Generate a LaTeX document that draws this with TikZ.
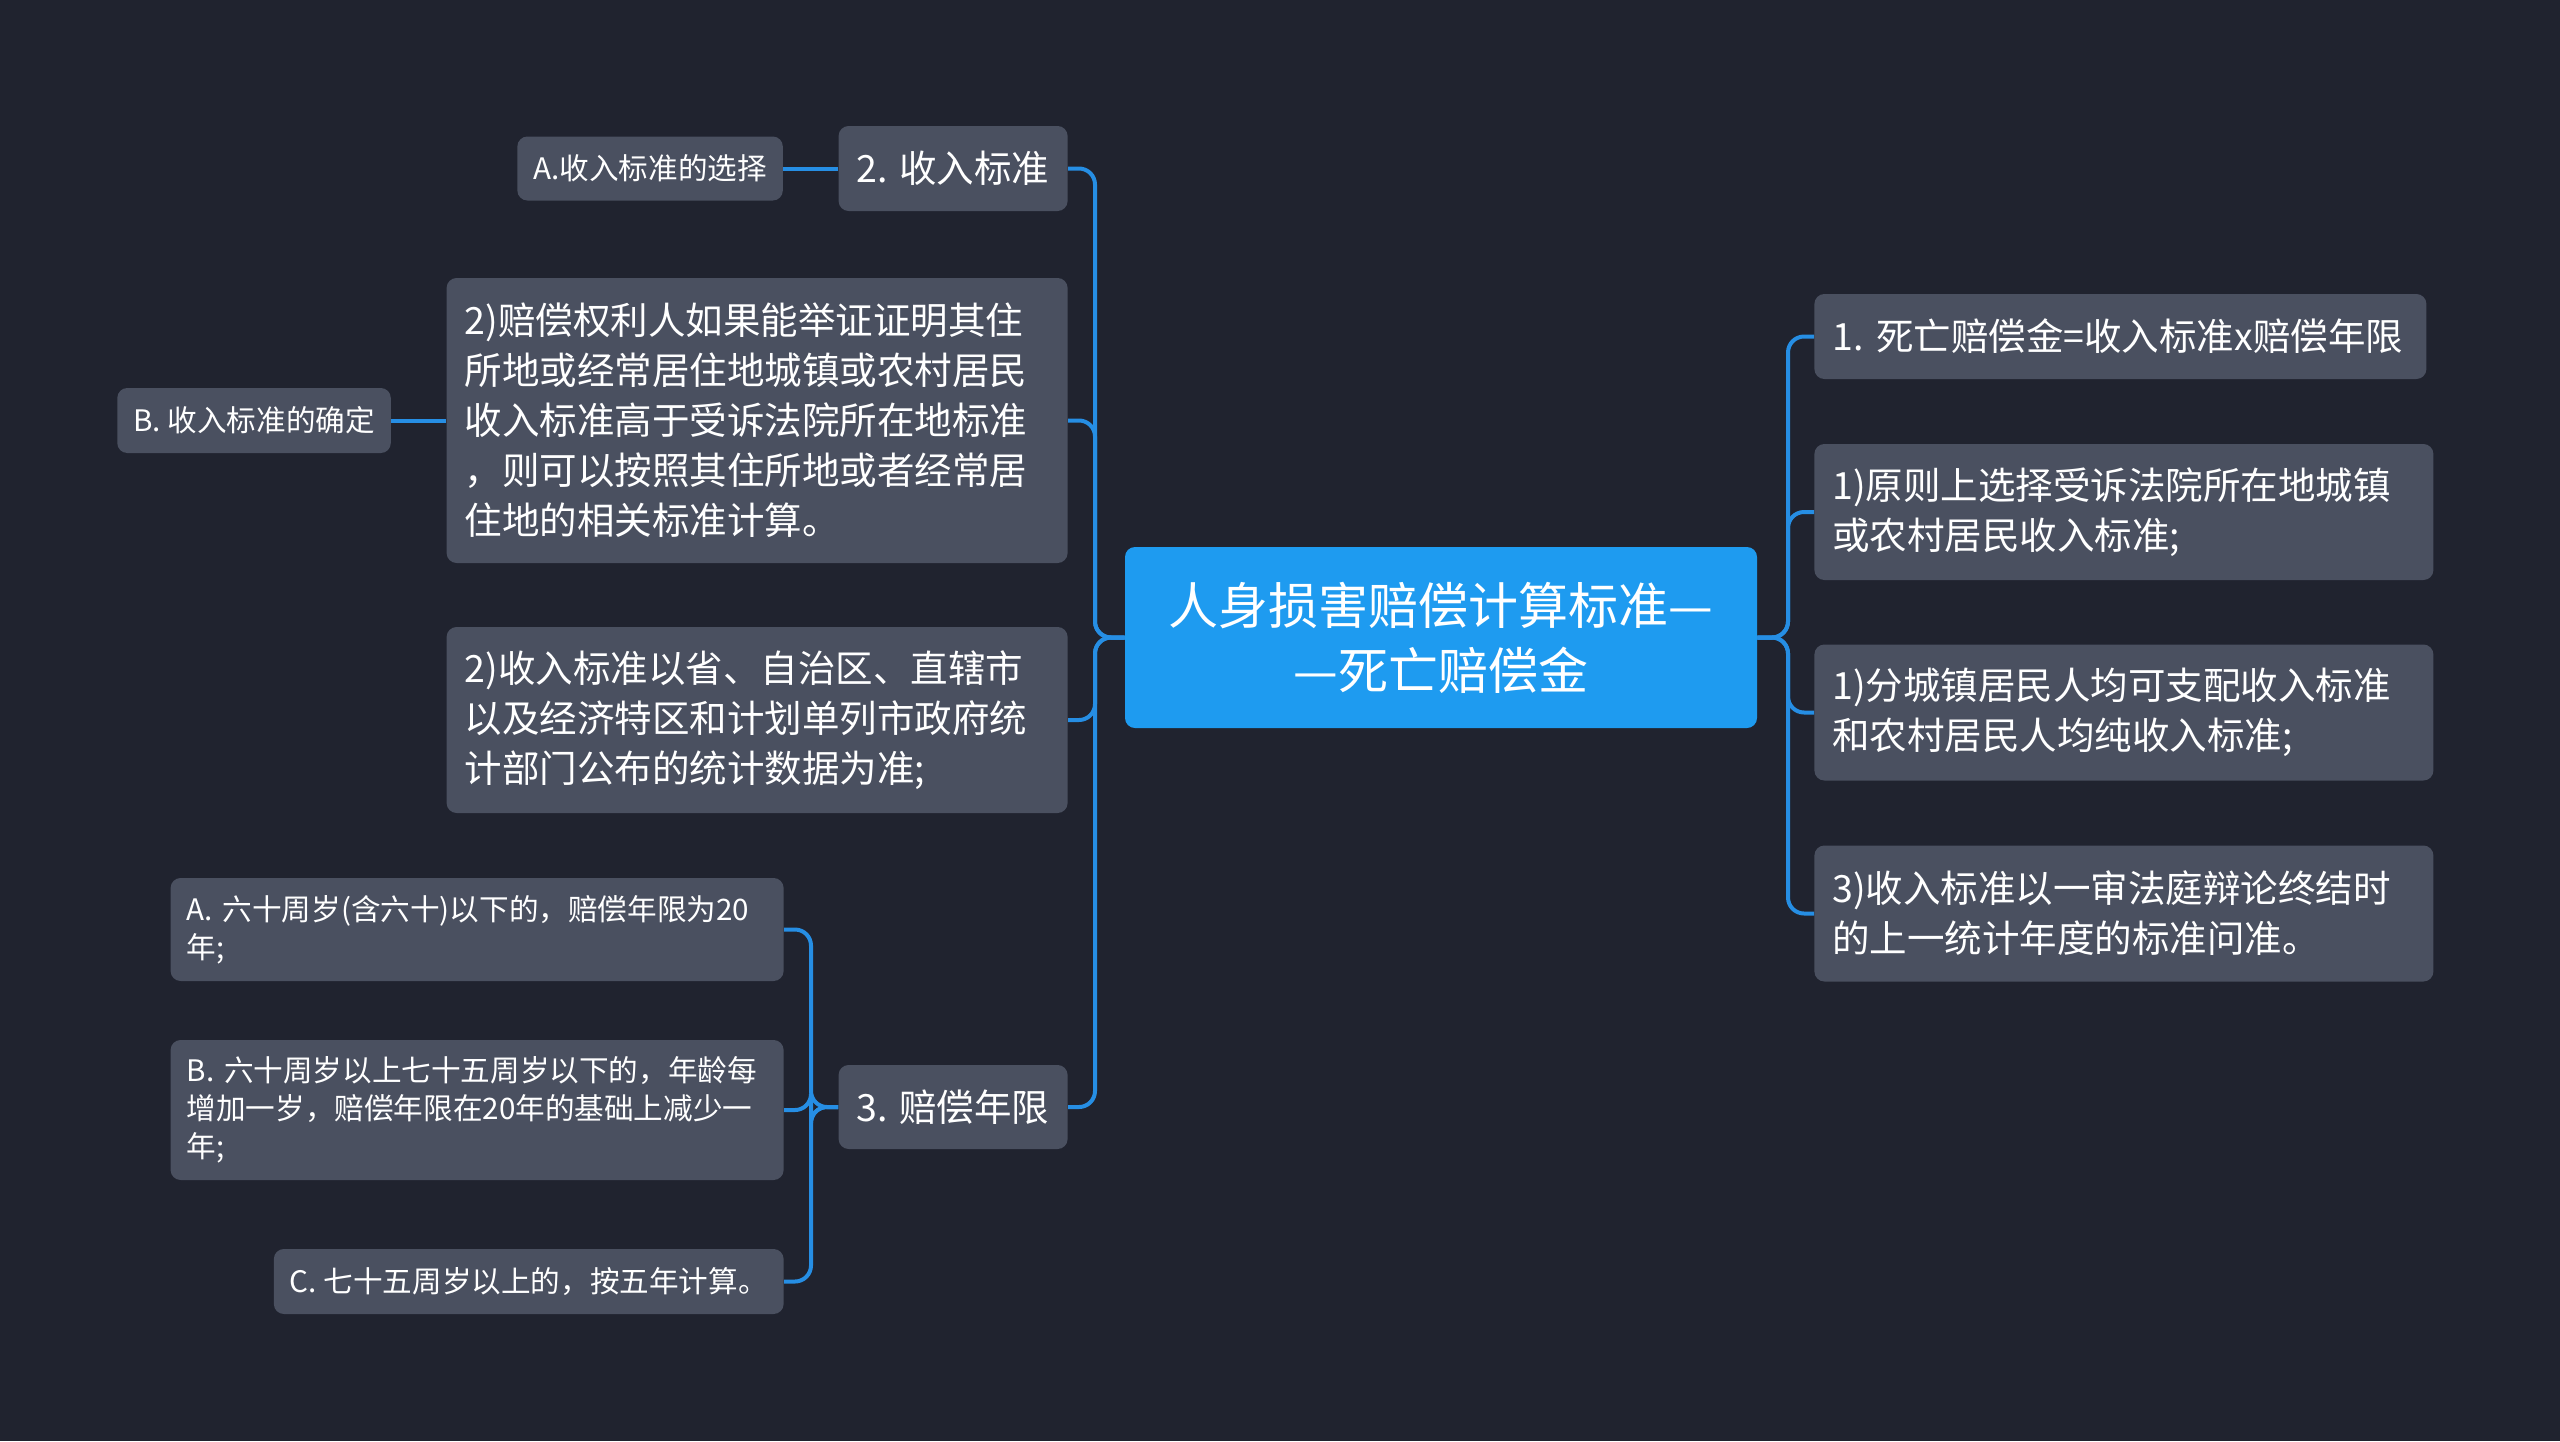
\documentclass[tikz,border=0pt]{standalone}
\usepackage{fontspec}
\setmainfont{Noto Sans CJK SC}
\definecolor{BgDark}{RGB}{32,35,47}
\definecolor{NodeGrey}{RGB}{74,80,96}
\definecolor{RootBlue}{RGB}{30,155,240}
\definecolor{LinkBlue}{RGB}{38,142,228}
\usetikzlibrary{positioning}

\begin{document}
\begin{tikzpicture}[
      x=0.5pt, y=-0.5pt,
      node distance=27.5pt,
      every node/.style={text=white},
      topic/.style={rectangle, fill=NodeGrey, rounded corners=5pt, inner xsep=9pt,
                    inner ysep=0pt, align=left, font=\fontsize{18.75}{25}\selectfont},
      leaf/.style={topic, inner xsep=8pt, font=\fontsize{14.8}{19}\selectfont},
      root/.style={rectangle, fill=RootBlue, rounded corners=5pt, minimum width=316pt,
                   minimum height=90.5pt, align=center, font=\fontsize{25}{32.5}\selectfont},
      link/.style={LinkBlue, line width=2pt, rounded corners=8pt}
    ]
      \fill[BgDark] (0,0) rectangle (2560,1441);

      \node[root] (root) at (1441,637.5) {人身损害赔偿计算标准—\\—死亡赔偿金};

      % right side
      \node[topic, anchor=west, text width=288pt, minimum height=42.5pt] (formula) at (1814,336.5)
        {1.~死亡赔偿金=收入标准x赔偿年限};
      \node[topic, anchor=west, text width=291.5pt, minimum height=68pt] (court) at (1814,512)
        {1)原则上选择受诉法院所在地城镇\\或农村居民收入标准;};
      \node[topic, anchor=west, text width=291.5pt, minimum height=68pt] (split) at (1814,712.5)
        {1)分城镇居民人均可支配收入标准\\和农村居民人均纯收入标准;};
      \node[topic, anchor=west, text width=291.5pt, minimum height=68pt] (year) at (1814,913.5)
        {3)收入标准以一审法庭辩论终结时\\的上一统计年度的标准问准。};

      % left side
      \node[topic, anchor=east, minimum width=114.5pt, minimum height=42.5pt] (income) at (1068,168.5)
        {2. 收入标准};
      \node[leaf, left=of income, minimum width=130pt, minimum height=32pt] (choice)
        {A.收入标准的选择};
      \node[topic, anchor=east, text width=292.5pt, minimum height=142.5pt] (proof) at (1068,420.5)
        {2)赔偿权利人如果能举证证明其住\\所地或经常居住地城镇或农村居民\\收入标准高于受诉法院所在地标准\\，则可以按照其住所地或者经常居\\住地的相关标准计算。};
      \node[leaf, left=of proof, minimum width=133pt, minimum height=32.5pt] (fix)
        {B. 收入标准的确定};
      \node[topic, anchor=east, text width=292.5pt, minimum height=93pt] (stats) at (1068,720)
        {2)收入标准以省、自治区、直辖市\\以及经济特区和计划单列市政府统\\计部门公布的统计数据为准;};
      \node[topic, anchor=east, minimum width=114.5pt, minimum height=42pt] (term) at (1068,1107)
        {3. 赔偿年限};
      \node[leaf, anchor=east, text width=290.5pt, minimum height=51.5pt] (under) at (784,929.5)
        {A. 六十周岁(含六十)以下的，赔偿年限为20\\年;};
      \node[leaf, anchor=east, text width=290.5pt, minimum height=70pt] (between) at (784,1110)
        {B. 六十周岁以上七十五周岁以下的，年龄每\\增加一岁，赔偿年限在20年的基础上减少一\\年;};
      \node[leaf, anchor=east, minimum width=251pt, minimum height=32.5pt] (over) at (784,1281.5)
        {C. 七十五周岁以上的，按五年计算。};

      % connectors
      \coordinate (rhub) at (1788,637.5);
      \coordinate (lhub) at (1095,637.5);
      \coordinate (thub) at (811,1107);
      \foreach \n in {formula,court,split,year}
        \draw[link] (root.east) -- (rhub) |- (\n.west);
      \foreach \n in {income,proof,stats,term}
        \draw[link] (root.west) -- (lhub) |- (\n.east);
      \foreach \n in {under,over}
        \draw[link] (term.west) -- (thub) |- (\n.east);
      \draw[link] (term.west) -- (thub) -- (thub |- between.east) -- (between.east);
      \draw[link] (income) -- (choice);
      \draw[link] (proof) -- (fix);
    \end{tikzpicture}
\end{document}
